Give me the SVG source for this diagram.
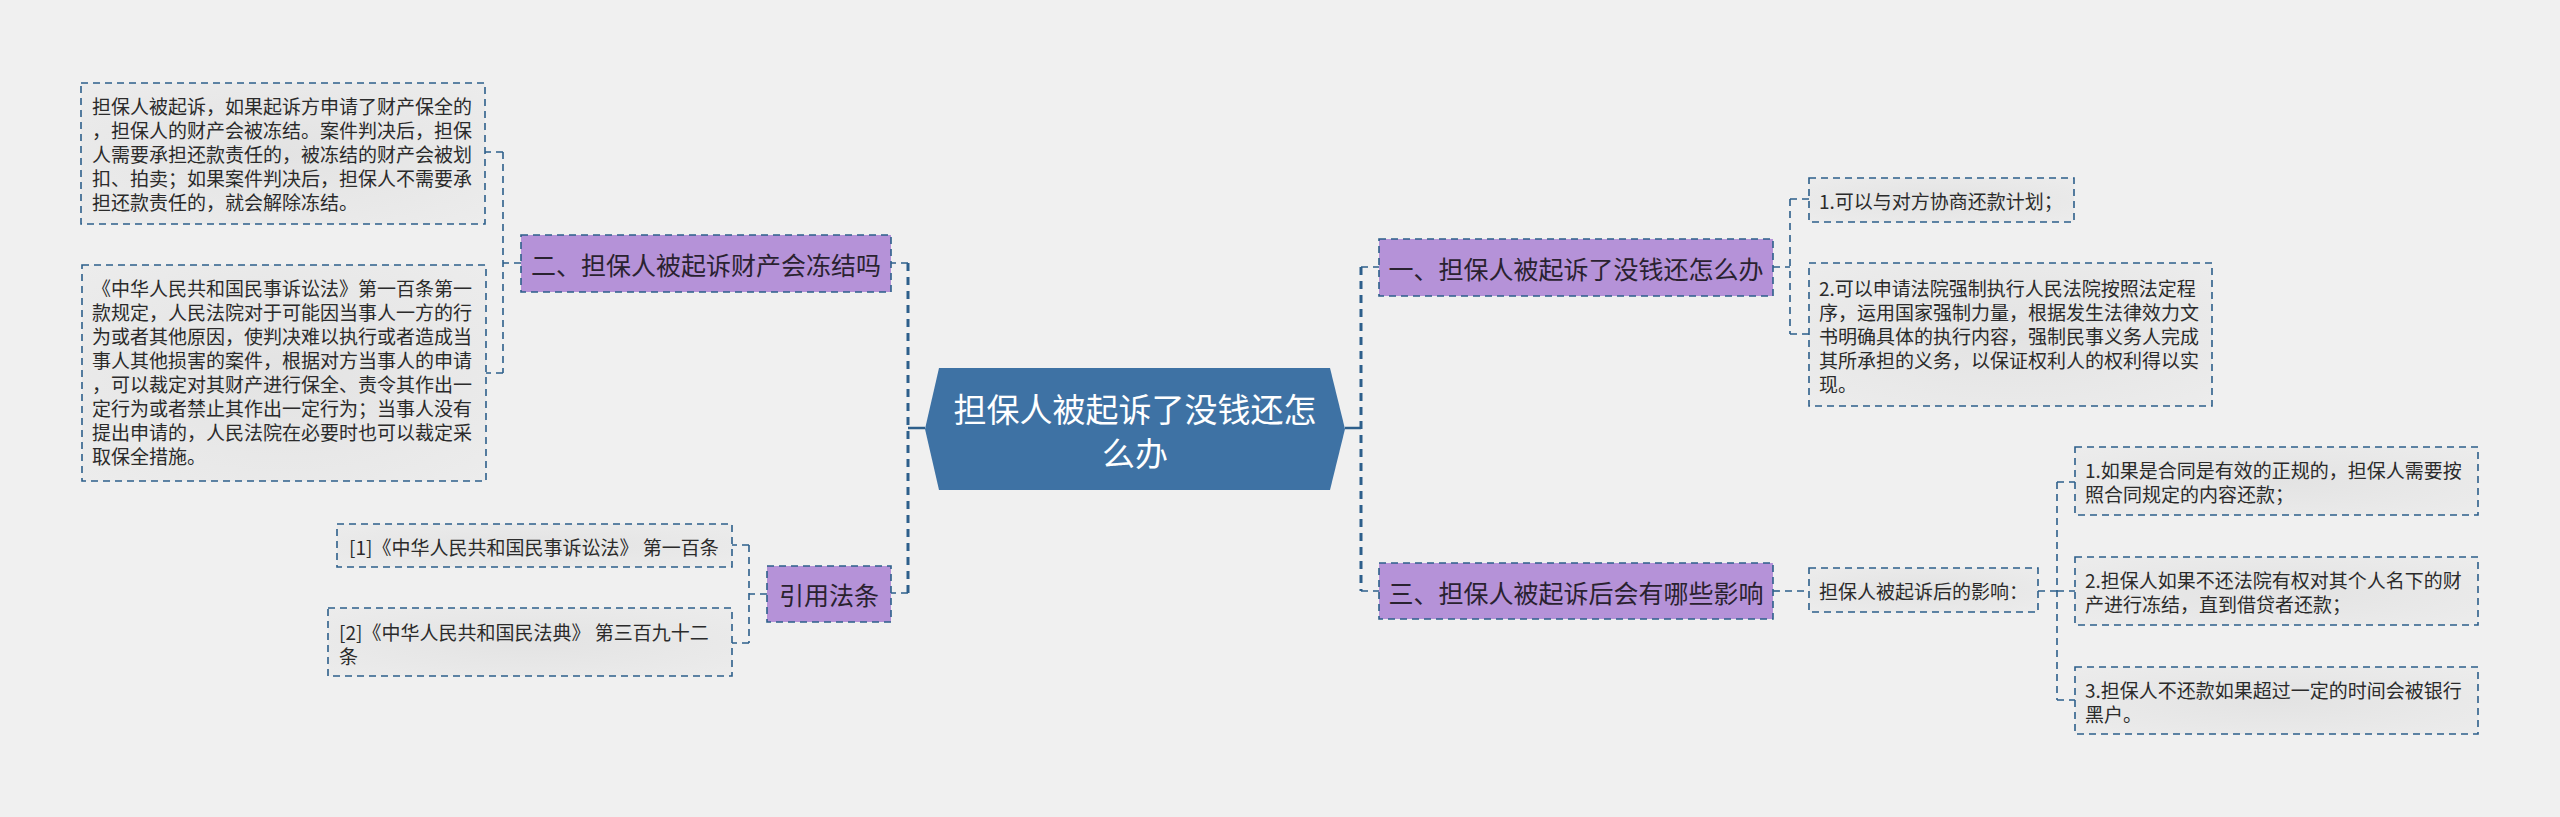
<svg xmlns="http://www.w3.org/2000/svg" width="2560" height="817" viewBox="0 0 2560 817">
<defs>
<radialGradient id="leafg" cx="50%" cy="50%" r="70%">
<stop offset="0" stop-color="#e3e3e3"/>
<stop offset="1" stop-color="#ececec"/>
</radialGradient>
<style>
.leaf{fill:url(#leafg);stroke:#2d5f8b;stroke-width:1.6;stroke-dasharray:7 5}
.branch{fill:#b592d8;stroke:#2d5f8b;stroke-width:1.6;stroke-dasharray:7 5}
.lt{font-family:"Noto Sans CJK SC","Noto Sans",sans-serif;font-size:19px;fill:#2b2b2b;dominant-baseline:central}
.bt{font-family:"Noto Sans CJK SC","Noto Sans",sans-serif;font-size:25px;fill:#2a2230;dominant-baseline:central;text-anchor:middle}
.ct{font-family:"Noto Sans CJK SC","Noto Sans",sans-serif;font-size:33px;fill:#ffffff;dominant-baseline:central;text-anchor:middle}
.c1{fill:none;stroke:#2d5f8b;stroke-width:1.6;stroke-dasharray:7 5}
.c2{fill:none;stroke:#2d5f8b;stroke-width:3;stroke-dasharray:8 6}
.c3{fill:none;stroke:#2d5f8b;stroke-width:2.5}
</style>
</defs>
<rect width="2560" height="817" fill="#f0f0f0"/>
<g id="connectors">
<path class="c3" d="M925 428 H908 M1345 428 H1361"/>
<path class="c2" d="M908 263 V593 M1361 267 V591"/>
<path class="c1" d="M908 263 H891 M908 593 H891 M1361 267 H1379 M1361 591 H1379"/>
<path class="c1" d="M521 263 H503 M503 152 V373 M503 152 H485 M503 373 H486"/>
<path class="c1" d="M767 594 H749 M749 545 V643 M749 545 H732 M749 643 H732"/>
<path class="c1" d="M1773 267 H1790 M1790 199 V334 M1790 199 H1809 M1790 334 H1809"/>
<path class="c1" d="M1773 591 H1809"/>
<path class="c1" d="M2038 591 H2057 M2057 482 V700 M2057 482 H2075 M2057 591 H2075 M2057 700 H2075"/>
</g>
<g id="center">
<polygon points="939,368 1330,368 1345,429 1330,490 939,490 925,429" fill="#3e72a4"/>
<text class="ct" x="1135" y="408">担保人被起诉了没钱还怎</text>
<text class="ct" x="1135" y="452">么办</text>
</g>
<g id="branch2">
<rect class="branch" x="521" y="235" width="370" height="57"/>
<text class="bt" x="706" y="264">二、担保人被起诉财产会冻结吗</text>
</g>
<g id="leaf2a">
<rect class="leaf" x="81" y="83" width="404" height="141"/>
<text class="lt" x="92" y="105">担保人被起诉，如果起诉方申请了财产保全的</text>
<text class="lt" x="92" y="129">，担保人的财产会被冻结。案件判决后，担保</text>
<text class="lt" x="92" y="153">人需要承担还款责任的，被冻结的财产会被划</text>
<text class="lt" x="92" y="177">扣、拍卖；如果案件判决后，担保人不需要承</text>
<text class="lt" x="92" y="201">担还款责任的，就会解除冻结。</text>
</g>
<g id="leaf2b">
<rect class="leaf" x="82" y="265" width="404" height="216"/>
<text class="lt" x="92" y="287">《中华人民共和国民事诉讼法》第一百条第一</text>
<text class="lt" x="92" y="311">款规定，人民法院对于可能因当事人一方的行</text>
<text class="lt" x="92" y="335">为或者其他原因，使判决难以执行或者造成当</text>
<text class="lt" x="92" y="359">事人其他损害的案件，根据对方当事人的申请</text>
<text class="lt" x="92" y="383">，可以裁定对其财产进行保全、责令其作出一</text>
<text class="lt" x="92" y="407">定行为或者禁止其作出一定行为；当事人没有</text>
<text class="lt" x="92" y="431">提出申请的，人民法院在必要时也可以裁定采</text>
<text class="lt" x="92" y="455">取保全措施。</text>
</g>
<g id="branchref">
<rect class="branch" x="767" y="566" width="124" height="56"/>
<text class="bt" x="829" y="594">引用法条</text>
</g>
<g id="ref1">
<rect class="leaf" x="337" y="524" width="395" height="43"/>
<text class="lt" x="349" y="546">[1]《中华人民共和国民事诉讼法》 第一百条</text>
</g>
<g id="ref2">
<rect class="leaf" x="328" y="608" width="404" height="68"/>
<text class="lt" x="339" y="631">[2]《中华人民共和国民法典》 第三百九十二</text>
<text class="lt" x="339" y="655">条</text>
</g>
<g id="branch1">
<rect class="branch" x="1379" y="239" width="394" height="57"/>
<text class="bt" x="1576" y="268">一、担保人被起诉了没钱还怎么办</text>
</g>
<g id="leaf1a">
<rect class="leaf" x="1809" y="178" width="265" height="44"/>
<text class="lt" x="1819" y="200">1.可以与对方协商还款计划；</text>
</g>
<g id="leaf1b">
<rect class="leaf" x="1809" y="263" width="403" height="143"/>
<text class="lt" x="1819" y="287">2.可以申请法院强制执行人民法院按照法定程</text>
<text class="lt" x="1819" y="311">序，运用国家强制力量，根据发生法律效力文</text>
<text class="lt" x="1819" y="335">书明确具体的执行内容，强制民事义务人完成</text>
<text class="lt" x="1819" y="359">其所承担的义务，以保证权利人的权利得以实</text>
<text class="lt" x="1819" y="383">现。</text>
</g>
<g id="branch3">
<rect class="branch" x="1379" y="563" width="394" height="56"/>
<text class="bt" x="1576" y="592">三、担保人被起诉后会有哪些影响</text>
</g>
<g id="leaf3">
<rect class="leaf" x="1809" y="568" width="229" height="44"/>
<text class="lt" x="1819" y="590">担保人被起诉后的影响：</text>
</g>
<g id="leaf3a">
<rect class="leaf" x="2075" y="447" width="403" height="68"/>
<text class="lt" x="2085" y="469">1.如果是合同是有效的正规的，担保人需要按</text>
<text class="lt" x="2085" y="493">照合同规定的内容还款；</text>
</g>
<g id="leaf3b">
<rect class="leaf" x="2075" y="557" width="403" height="68"/>
<text class="lt" x="2085" y="579">2.担保人如果不还法院有权对其个人名下的财</text>
<text class="lt" x="2085" y="603">产进行冻结，直到借贷者还款；</text>
</g>
<g id="leaf3c">
<rect class="leaf" x="2075" y="667" width="403" height="67"/>
<text class="lt" x="2085" y="689">3.担保人不还款如果超过一定的时间会被银行</text>
<text class="lt" x="2085" y="713">黑户。</text>
</g>
</svg>
